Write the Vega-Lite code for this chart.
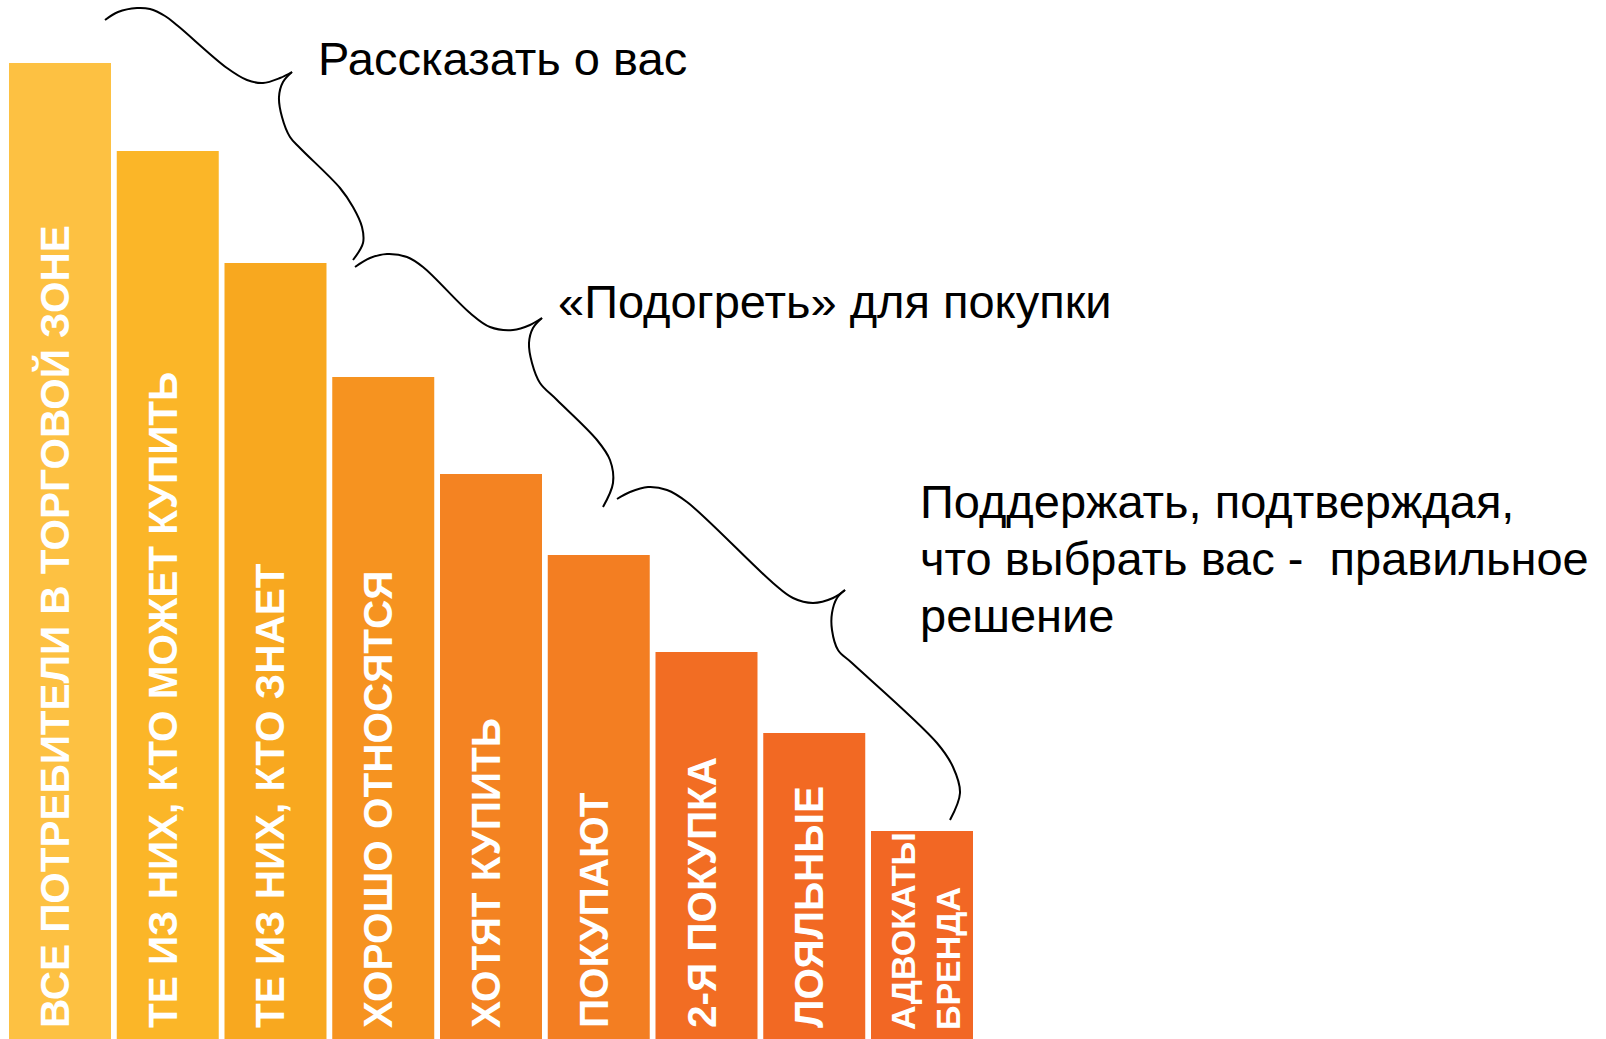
{
  "$schema": "https://vega.github.io/schema/vega-lite/v6.json",
  "width": 1606,
  "height": 1039,
  "autosize": "none",
  "padding": 0,
  "background": "white",
  "config": {"view": {"stroke": null}},
  "datasets": {
    "stages": [
      {"stage": "ВСЕ ПОТРЕБИТЕЛИ В ТОРГОВОЙ ЗОНЕ", "value": 976},
      {"stage": "ТЕ ИЗ НИХ, КТО МОЖЕТ КУПИТЬ", "value": 888},
      {"stage": "ТЕ ИЗ НИХ, КТО ЗНАЕТ", "value": 776},
      {"stage": "ХОРОШО ОТНОСЯТСЯ", "value": 662},
      {"stage": "ХОТЯТ КУПИТЬ", "value": 565},
      {"stage": "ПОКУПАЮТ", "value": 484},
      {"stage": "2-Я ПОКУПКА", "value": 387},
      {"stage": "ЛОЯЛЬНЫЕ", "value": 306},
      {"stage": "АДВОКАТЫ\nБРЕНДА", "value": 208}
    ],
    "braces": [
      {"seg": "1a", "i": 0, "px": 105, "py": 20},
      {"seg": "1a", "i": 1, "px": 118, "py": 12},
      {"seg": "1a", "i": 2, "px": 137, "py": 8},
      {"seg": "1a", "i": 3, "px": 150, "py": 9},
      {"seg": "1a", "i": 4, "px": 165, "py": 16},
      {"seg": "1a", "i": 5, "px": 178, "py": 26},
      {"seg": "1a", "i": 6, "px": 227, "py": 68},
      {"seg": "1a", "i": 7, "px": 247, "py": 80},
      {"seg": "1a", "i": 8, "px": 263, "py": 83},
      {"seg": "1a", "i": 9, "px": 280, "py": 78},
      {"seg": "1a", "i": 10, "px": 292, "py": 72},
      {"seg": "1b", "i": 0, "px": 292, "py": 72},
      {"seg": "1b", "i": 1, "px": 283, "py": 82},
      {"seg": "1b", "i": 2, "px": 279, "py": 97},
      {"seg": "1b", "i": 3, "px": 282, "py": 117},
      {"seg": "1b", "i": 4, "px": 290, "py": 137},
      {"seg": "1b", "i": 5, "px": 300, "py": 148},
      {"seg": "1b", "i": 6, "px": 340, "py": 188},
      {"seg": "1b", "i": 7, "px": 353, "py": 207},
      {"seg": "1b", "i": 8, "px": 362, "py": 227},
      {"seg": "1b", "i": 9, "px": 363, "py": 243},
      {"seg": "1b", "i": 10, "px": 353, "py": 260},
      {"seg": "2a", "i": 0, "px": 355, "py": 267},
      {"seg": "2a", "i": 1, "px": 370, "py": 258},
      {"seg": "2a", "i": 2, "px": 387, "py": 254},
      {"seg": "2a", "i": 3, "px": 407, "py": 257},
      {"seg": "2a", "i": 4, "px": 423, "py": 267},
      {"seg": "2a", "i": 5, "px": 470, "py": 313},
      {"seg": "2a", "i": 6, "px": 490, "py": 327},
      {"seg": "2a", "i": 7, "px": 513, "py": 330},
      {"seg": "2a", "i": 8, "px": 530, "py": 325},
      {"seg": "2a", "i": 9, "px": 542, "py": 318},
      {"seg": "2b", "i": 0, "px": 542, "py": 318},
      {"seg": "2b", "i": 1, "px": 533, "py": 328},
      {"seg": "2b", "i": 2, "px": 529, "py": 343},
      {"seg": "2b", "i": 3, "px": 532, "py": 363},
      {"seg": "2b", "i": 4, "px": 540, "py": 383},
      {"seg": "2b", "i": 5, "px": 557, "py": 400},
      {"seg": "2b", "i": 6, "px": 597, "py": 440},
      {"seg": "2b", "i": 7, "px": 610, "py": 460},
      {"seg": "2b", "i": 8, "px": 613, "py": 483},
      {"seg": "2b", "i": 9, "px": 603, "py": 507},
      {"seg": "3a", "i": 0, "px": 617, "py": 499},
      {"seg": "3a", "i": 1, "px": 630, "py": 492},
      {"seg": "3a", "i": 2, "px": 648, "py": 487},
      {"seg": "3a", "i": 3, "px": 667, "py": 490},
      {"seg": "3a", "i": 4, "px": 687, "py": 502},
      {"seg": "3a", "i": 5, "px": 773, "py": 583},
      {"seg": "3a", "i": 6, "px": 793, "py": 598},
      {"seg": "3a", "i": 7, "px": 813, "py": 603},
      {"seg": "3a", "i": 8, "px": 833, "py": 598},
      {"seg": "3a", "i": 9, "px": 845, "py": 590},
      {"seg": "3b", "i": 0, "px": 845, "py": 590},
      {"seg": "3b", "i": 1, "px": 837, "py": 598},
      {"seg": "3b", "i": 2, "px": 832, "py": 613},
      {"seg": "3b", "i": 3, "px": 832, "py": 630},
      {"seg": "3b", "i": 4, "px": 838, "py": 650},
      {"seg": "3b", "i": 5, "px": 852, "py": 663},
      {"seg": "3b", "i": 6, "px": 937, "py": 743},
      {"seg": "3b", "i": 7, "px": 953, "py": 767},
      {"seg": "3b", "i": 8, "px": 960, "py": 793},
      {"seg": "3b", "i": 9, "px": 950, "py": 820}
    ],
    "notes": [
      {"note": "Рассказать о вас", "px": 318, "py": 75},
      {"note": "«Подогреть» для покупки", "px": 558, "py": 318},
      {"note": "Поддержать, подтверждая,\nчто выбрать вас -\u00a0 правильное\nрешение", "px": 920, "py": 518}
    ]
  },
  "layer": [
    {
      "data": {"name": "stages"},
      "encoding": {
        "x": {
          "field": "stage", "type": "nominal", "sort": null, "axis": null,
          "scale": {"paddingInner": 0.0534, "paddingOuter": 0, "range": [9, 973]}
        }
      },
      "layer": [
        {
          "mark": {"type": "bar"},
          "encoding": {
            "y": {"field": "value", "type": "quantitative", "axis": null, "scale": {"domain": [0, 1039], "nice": false}},
            "color": {
              "field": "stage", "type": "nominal", "legend": null, "sort": null,
              "scale": {
                "domain": ["ВСЕ ПОТРЕБИТЕЛИ В ТОРГОВОЙ ЗОНЕ", "ТЕ ИЗ НИХ, КТО МОЖЕТ КУПИТЬ", "ТЕ ИЗ НИХ, КТО ЗНАЕТ", "ХОРОШО ОТНОСЯТСЯ", "ХОТЯТ КУПИТЬ", "ПОКУПАЮТ", "2-Я ПОКУПКА", "ЛОЯЛЬНЫЕ", "АДВОКАТЫ\nБРЕНДА"],
                "range": ["#FDC142", "#FBB628", "#F8A81F", "#F69320", "#F48322", "#F37E22", "#F26D23", "#F26923", "#F26724"]
              }
            }
          }
        },
        {
          "transform": [{"filter": {"not": {"field": "stage", "equal": "АДВОКАТЫ\nБРЕНДА"}}}],
          "mark": {"type": "text", "angle": 270, "align": "left", "baseline": "alphabetic", "dx": 11, "dy": 9, "font": "Liberation Sans", "fontWeight": "bold", "fontSize": 40.5, "color": "white"},
          "encoding": {
            "y": {"datum": 0, "type": "quantitative", "scale": {"domain": [0, 1039], "nice": false}},
            "text": {"field": "stage"}
          }
        },
        {
          "transform": [{"filter": {"field": "stage", "equal": "АДВОКАТЫ\nБРЕНДА"}}],
          "mark": {"type": "text", "angle": 270, "align": "left", "baseline": "alphabetic", "dx": 9, "dy": -7, "lineBreak": "\n", "lineHeight": 45, "font": "Liberation Sans", "fontWeight": "bold", "fontSize": 34, "color": "white"},
          "encoding": {
            "y": {"datum": 0, "type": "quantitative", "scale": {"domain": [0, 1039], "nice": false}},
            "text": {"field": "stage"}
          }
        }
      ]
    },
    {
      "encoding": {
        "x": {"field": "px", "type": "quantitative", "axis": null, "scale": {"domain": [0, 1606], "nice": false, "zero": false}},
        "y": {"field": "py", "type": "quantitative", "axis": null, "scale": {"domain": [0, 1039], "nice": false, "zero": false, "reverse": true}}
      },
      "layer": [
        {
          "data": {"name": "braces"},
          "mark": {"type": "line", "interpolate": "catmull-rom", "color": "black", "strokeWidth": 2},
          "encoding": {
            "detail": {"field": "seg", "type": "nominal"},
            "order": {"field": "i", "type": "quantitative"}
          }
        },
        {
          "data": {"name": "notes"},
          "mark": {"type": "text", "align": "left", "baseline": "alphabetic", "lineBreak": "\n", "lineHeight": 57, "font": "Liberation Sans", "fontSize": 47, "color": "black"},
          "encoding": {
            "text": {"field": "note"}
          }
        }
      ]
    }
  ],
  "resolve": {"scale": {"x": "independent", "y": "independent"}}
}
